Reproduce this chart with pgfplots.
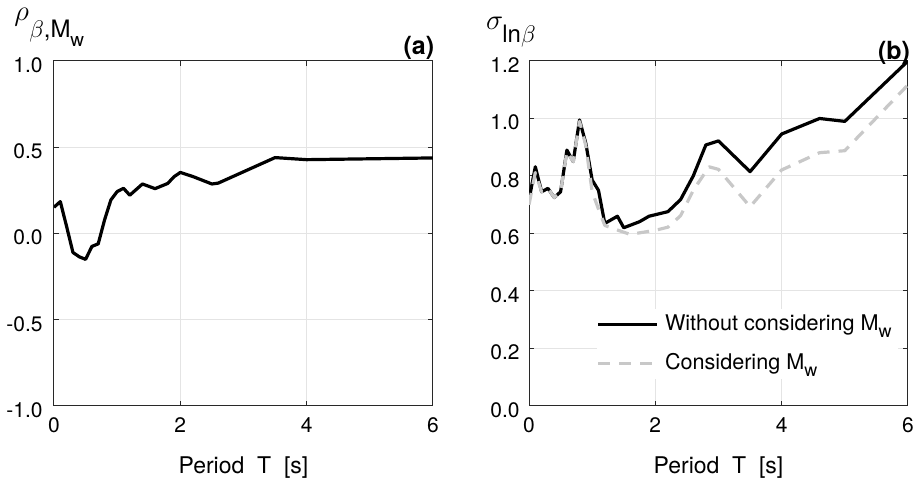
\documentclass[border=0pt]{standalone}
\usepackage{fontspec}
\setmainfont{TeX Gyre Heros}
\usepackage{pgfplots}
\pgfplotsset{compat=1.18}

\definecolor{axgray}{RGB}{40,40,40}
\definecolor{gridgray}{RGB}{228,228,228}
\definecolor{dashgray}{RGB}{200,200,200}

% correlation of beta with magnitude
\pgfplotstableread{
T     rho
0.0   0.152
0.1   0.185
0.2   0.040
0.3  -0.110
0.4  -0.135
0.5  -0.150
0.6  -0.075
0.7  -0.060
0.8   0.078
0.9   0.194
1.0   0.243
1.1   0.262
1.2   0.222
1.4   0.287
1.6   0.260
1.8   0.290
1.9   0.329
2.0   0.354
2.2   0.330
2.5   0.287
2.6   0.292
3.5   0.440
4.0   0.428
6.0   0.438
}\rhodata

% standard deviation of ln(beta)
\pgfplotstableread{
T     sig
0.0   0.717
0.1   0.832
0.2   0.745
0.3   0.757
0.4   0.725
0.5   0.745
0.6   0.890
0.7   0.850
0.8   0.995
0.9   0.913
1.0   0.786
1.1   0.750
1.2   0.635
1.4   0.660
1.5   0.620
1.75  0.641
1.9   0.660
2.2   0.676
2.4   0.718
2.6   0.800
2.8   0.908
3.0   0.922
3.5   0.815
4.0   0.946
4.6   1.000
5.0   0.990
6.0   1.200
}\sigwithout

\pgfplotstableread{
T     sig
0.0   0.700
0.1   0.812
0.2   0.745
0.3   0.757
0.4   0.725
0.5   0.745
0.6   0.885
0.7   0.850
0.8   0.990
0.9   0.905
1.0   0.745
1.1   0.685
1.2   0.628
1.4   0.612
1.6   0.597
2.0   0.611
2.2   0.622
2.4   0.662
2.6   0.750
2.85  0.832
3.0   0.823
3.5   0.693
4.0   0.821
4.6   0.881
5.0   0.888
6.0   1.117
}\sigwith

\pgfplotsset{
  panel/.style={
    scale only axis, width=189.5pt, height=172.5pt,
    clip mode=individual,
    xmin=0, xmax=6, xtick={0,2,4,6},
    xticklabels={\textrm{0},\textrm{2},\textrm{4},\textrm{6}},
    grid=major, major grid style={gridgray, line width=0.5pt},
    axis line style={axgray, line width=0.5pt},
    tick style={axgray, line width=0.5pt},
    tick align=inside, major tick length=2.5pt,
    ticklabel style={font=\fontsize{10.5}{12}\selectfont, text=black},
    xticklabel style={yshift=-2.5pt},
    yticklabel style={yshift=-2pt},
    xlabel={Period\ \ T\ \ [s]},
    xlabel style={font=\fontsize{11.5}{14}\selectfont, at={(axis description cs:0.5,0)},
      anchor=base, yshift=-34pt, inner sep=0pt},
    every axis plot/.append style={line join=round},
  }
}

\begin{document}
\begin{tikzpicture}
\path[use as bounding box] (0,0) rectangle (459pt,240pt);

\begin{axis}[panel, at={(27pt,37pt)}, anchor=south west,
    ymin=-1, ymax=1, ytick={-1,-0.5,0,0.5,1},
    yticklabels={\textrm{-1.0},\textrm{-0.5},\textrm{0.0},\textrm{0.5},\textrm{1.0}},
    yticklabel style={xshift=-2.2pt}]
  \addplot[black, line width=1.6pt] table[x=T, y=rho] {\rhodata};
  \node[anchor=base east, inner sep=0pt, font=\fontsize{12.5}{14}\selectfont\bfseries]
    at ([yshift=3pt, xshift=0.8pt]rel axis cs:1,1) {(a)};
\end{axis}

\begin{axis}[panel, at={(264.5pt,37pt)}, anchor=south west,
    ymin=0, ymax=1.2, ytick={0,0.2,0.4,0.6,0.8,1.0,1.2},
    yticklabels={\textrm{0.0},\textrm{0.2},\textrm{0.4},\textrm{0.6},\textrm{0.8},\textrm{1.0},\textrm{1.2}},
    yticklabel style={xshift=-1.2pt},
    legend style={at={(0.178,0.282)}, anchor=north west, draw=none, fill=white,
      inner sep=0pt, font=\fontsize{10.8}{12}\selectfont,
      row sep=4pt, nodes={inner sep=3pt}},
    /tikz/every even column/.append style={column sep=-3pt},
    legend cell align=left,
    legend image code/.code={\draw[#1] (0pt,0pt) -- (29.5pt,0pt);}]
  \addplot[black, line width=1.6pt] table[x=T, y=sig] {\sigwithout};
  \addlegendentry{Without considering M\raisebox{-3.5pt}{\fontsize{9}{10}\selectfont w}}
  \addplot[dashgray, line width=1.6pt, dash pattern=on 6pt off 4.5pt] table[x=T, y=sig] {\sigwith};
  \addlegendentry{Considering M\raisebox{-3.5pt}{\fontsize{9}{10}\selectfont w}}
  \node[anchor=base east, inner sep=0pt, font=\fontsize{12.5}{14}\selectfont\bfseries]
    at ([yshift=0.8pt, xshift=1.2pt]rel axis cs:1,1) {(b)};
\end{axis}

% panel (a) y-axis label
\node[anchor=base west, inner sep=0pt, font=\fontsize{15}{17}\selectfont] at (7pt,229.5pt) {$\rho$};
\node[anchor=base west, inner sep=0pt, font=\fontsize{12}{14}\selectfont] at (14.5pt,221pt) {$\beta$,M};
\node[anchor=base west, inner sep=0pt, font=\fontsize{9.5}{11}\selectfont] at (35pt,216.5pt) {w};
% panel (b) y-axis label
\node[anchor=base west, inner sep=0pt, font=\fontsize{15}{17}\selectfont] at (242.8pt,225pt) {$\sigma$};
\node[anchor=base west, inner sep=0pt, font=\fontsize{12}{14}\selectfont] at (251pt,218.5pt) {ln$\beta$};
\end{tikzpicture}
\end{document}
